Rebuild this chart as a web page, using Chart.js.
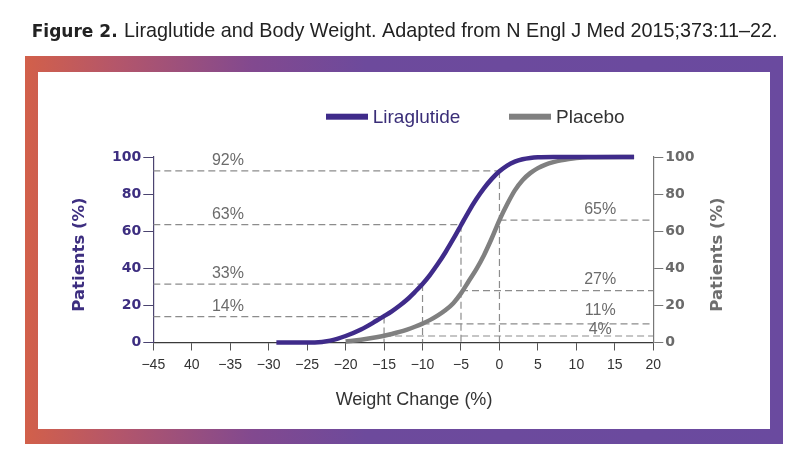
<!DOCTYPE html>
<html><head><meta charset="utf-8">
<script src="https://cdn.jsdelivr.net/npm/chart.js@4.4.0/dist/chart.umd.min.js"></script>
<style>html,body{margin:0;padding:0;background:#fff;}canvas{display:block;}</style>
</head><body>
<canvas id="c" width="800" height="474"></canvas>
<script>
// ---- data ----
const seriesNames = ['Liraglutide', 'Placebo'];
const xTickLabels = ['\u221245','40','\u221235','\u221230','\u221225','\u221220','\u221215','\u221210','\u22125','0','5','10','15','20'];
const yTickLabels = ['0','20','40','60','80','100'];

const liraX = [-29, -24, -22, -20, -18, -16, -15, -14, -13, -12, -11, -10, -9, -8, -7, -6, -5, -4, -3, -2, -1, 0, 1, 2, 3, 4, 5, 7, 17.5];
const liraY = [0, 0, 1, 3.5, 7, 11.7, 14.2, 16.8, 19.8, 23.2, 27.2, 31.5, 36.6, 42.4, 48.8, 55.8, 63.2, 70.6, 77.3, 83.2, 88.2, 92.3, 95.4, 97.5, 98.8, 99.5, 99.85, 100, 100];

const placX = [-20, -18, -16, -15, -14, -13, -12, -11, -10, -9, -8, -7, -6, -5, -4, -3, -2, -1, 0, 1, 2, 3, 4, 5, 6, 7, 8, 9, 10, 11.5, 17.5];
const placY = [0.5, 1.5, 2.8, 3.6, 4.6, 5.7, 7, 8.5, 10.2, 12.2, 14.6, 17.5, 21.2, 26.5, 33, 39.5, 47.2, 56.2, 66, 74.5, 82, 87.5, 91.3, 94, 95.9, 97.2, 98.2, 98.9, 99.4, 99.8, 100];

const leftRefX = [-15, -10, -5, 0];
const leftRefY = [14, 31.5, 63.5, 92.5];
const leftRefLabels = ['14%', '33%', '63%', '92%'];

const rightRefX = [-15, -10, -5, 0];
const rightRefY = [3.5, 10, 28, 66];
const rightRefLabels = ['4%', '11%', '27%', '65%'];

// ---- styling ----
const LIRA = '#3f2b8a';
const PLAC = '#808080';
const DASH = '#8c8c8c';
const X_MIN = -45, X_MAX = 20;

const toPts = (xs, ys) => xs.map((x, i) => ({x: x, y: ys[i]}));

const refStyle = {borderColor: DASH, borderWidth: 1.2, borderDash: [7, 4], pointRadius: 0, fill: false, tension: 0};
const refSets = [];
leftRefX.forEach((x, i) => {
  refSets.push(Object.assign({label: 'ref', data: [{x: X_MIN, y: leftRefY[i]}, {x: x, y: leftRefY[i]}]}, refStyle));
  refSets.push(Object.assign({label: 'ref', data: [{x: x, y: leftRefY[i]}, {x: x, y: 0}]}, refStyle));
});
rightRefX.forEach((x, i) => {
  refSets.push(Object.assign({label: 'ref', data: [{x: x, y: rightRefY[i]}, {x: X_MAX, y: rightRefY[i]}]}, refStyle));
});

const decor = {
  id: 'decor',
  beforeDraw(chart) {
    const ctx = chart.ctx;
    ctx.save();
    ctx.fillStyle = '#fff';
    ctx.fillRect(0, 0, chart.width, chart.height);
    const g = ctx.createLinearGradient(25, 0, 783, 0);
    g.addColorStop(0, '#d2604a');
    g.addColorStop(0.12, '#b4566a');
    g.addColorStop(0.3, '#82498f');
    g.addColorStop(0.45, '#6d4a9c');
    g.addColorStop(1, '#6a4a9f');
    ctx.fillStyle = g;
    ctx.fillRect(25, 56, 758, 388);
    ctx.fillStyle = '#fff';
    ctx.fillRect(38, 72, 732, 357);
    // caption
    ctx.fillStyle = '#222';
    ctx.textBaseline = 'alphabetic';
    ctx.textAlign = 'left';
    let f1 = 17.5;
    ctx.font = 'bold ' + f1 + 'px "DejaVu Sans"';
    f1 *= 86 / ctx.measureText('Figure 2.').width;
    ctx.font = 'bold ' + f1 + 'px "DejaVu Sans"';
    ctx.fillText('Figure 2.', 31.7, 36.7);
    const t2 = 'Liraglutide and Body Weight. Adapted from N Engl J Med 2015;373:11\u201322.';
    let f2 = 18;
    ctx.font = f2 + 'px "Liberation Sans"';
    f2 *= 654 / ctx.measureText(t2).width;
    ctx.font = f2 + 'px "Liberation Sans"';
    ctx.fillText(t2, 124, 36.7);
    ctx.restore();
  },
  afterDraw(chart) {
    const ctx = chart.ctx;
    const xs = chart.scales.x, ys = chart.scales.y;
    ctx.save();
    // reference labels
    ctx.font = '16px "Liberation Sans"';
    ctx.fillStyle = '#6b6b6b';
    ctx.textAlign = 'center';
    ctx.textBaseline = 'middle';
    const lx = xs.getPixelForValue(-35.3);
    leftRefLabels.forEach((t, i) => {
      ctx.fillText(t, lx, ys.getPixelForValue(leftRefY[i]) - 10);
    });
    const rx = xs.getPixelForValue(13.1);
    const rOff = [6, 13, 10.5, 10];
    rightRefLabels.forEach((t, i) => {
      ctx.fillText(t, rx, ys.getPixelForValue(rightRefY[i]) - rOff[i]);
    });
    // legend
    const ds = chart.data.datasets;
    const leg = [{x: 326, w: 42, tx: 372.7, tc: '#3a2e78'}, {x: 509, w: 42, tx: 556, tc: '#333'}];
    ctx.font = '19px "Liberation Sans"';
    ctx.textAlign = 'left';
    leg.forEach((l, i) => {
      ctx.fillStyle = ds[i].borderColor;
      ctx.fillRect(l.x, 113.7, l.w, 6);
      ctx.fillStyle = l.tc;
      ctx.fillText(ds[i].label, l.tx, 117.5);
    });
    // axis titles
    ctx.fillStyle = '#333';
    ctx.textAlign = 'center';
    ctx.font = '18px "Liberation Sans"';
    ctx.fillText('Weight Change (%)', 414, 400);
    ctx.font = 'bold 16.5px "DejaVu Sans"';
    ctx.save();
    ctx.translate(80, 254.5);
    ctx.rotate(-Math.PI / 2);
    ctx.fillStyle = '#3d2e80';
    ctx.fillText('Patients (%)', 0, 0);
    ctx.restore();
    ctx.save();
    ctx.translate(718, 254.5);
    ctx.rotate(-Math.PI / 2);
    ctx.fillStyle = '#6e6e6e';
    ctx.fillText('Patients (%)', 0, 0);
    ctx.restore();
    ctx.restore();
  }
};

const PAD_L = 68, PAD_R = 70, PAD_T = 157, PAD_B = 91.5;
const AREA_L = 153.3, AREA_R = 653.3;

new Chart(document.getElementById('c'), {
  type: 'line',
  data: {
    datasets: [
      {label: seriesNames[0], data: toPts(liraX, liraY), borderColor: LIRA, borderWidth: 4.5, pointRadius: 0, cubicInterpolationMode: 'monotone', fill: false, clip: false},
      {label: seriesNames[1], data: toPts(placX, placY), borderColor: PLAC, borderWidth: 4.5, pointRadius: 0, cubicInterpolationMode: 'monotone', fill: false, clip: false}
    ].concat(refSets)
  },
  options: {
    responsive: false,
    animation: false,
    events: [],
    layout: {padding: {left: PAD_L, right: PAD_R, top: PAD_T, bottom: PAD_B}},
    plugins: {legend: {display: false}, tooltip: {enabled: false}},
    scales: {
      x: {
        type: 'linear', position: 'bottom', min: X_MIN, max: X_MAX,
        afterFit: s => { s.height = 40; },
        ticks: {stepSize: 5, autoSkip: false, maxRotation: 0, padding: 6, color: '#333',
          font: {family: 'Liberation Sans', size: 14},
          callback: (v, i) => xTickLabels[i]},
        grid: {drawOnChartArea: false, drawTicks: true, tickLength: 8, color: '#555', lineWidth: 1},
        border: {display: true, color: '#3a3a3a', width: 1.2}
      },
      y: {
        type: 'linear', position: 'left', min: 0, max: 100,
        afterFit: s => { s.width = AREA_L - PAD_L; },
        ticks: {stepSize: 20, padding: 2, color: '#3d2e80',
          font: {family: 'DejaVu Sans', size: 14, weight: 'bold'},
          callback: (v, i) => yTickLabels[i]},
        grid: {drawOnChartArea: false, drawTicks: true, tickLength: 10, color: '#4b4470', lineWidth: 1},
        border: {display: true, color: '#4b4470', width: 1.2}
      },
      y2: {
        type: 'linear', position: 'right', min: 0, max: 100,
        afterFit: s => { s.width = 800 - PAD_R - AREA_R; },
        ticks: {stepSize: 20, padding: 2, color: '#6a6a6a',
          font: {family: 'DejaVu Sans', size: 14, weight: 'bold'},
          callback: (v, i) => yTickLabels[i]},
        grid: {drawOnChartArea: false, drawTicks: true, tickLength: 10, color: '#777', lineWidth: 1},
        border: {display: true, color: '#777', width: 1.2}
      }
    }
  },
  plugins: [decor]
});
</script>
</body></html>
